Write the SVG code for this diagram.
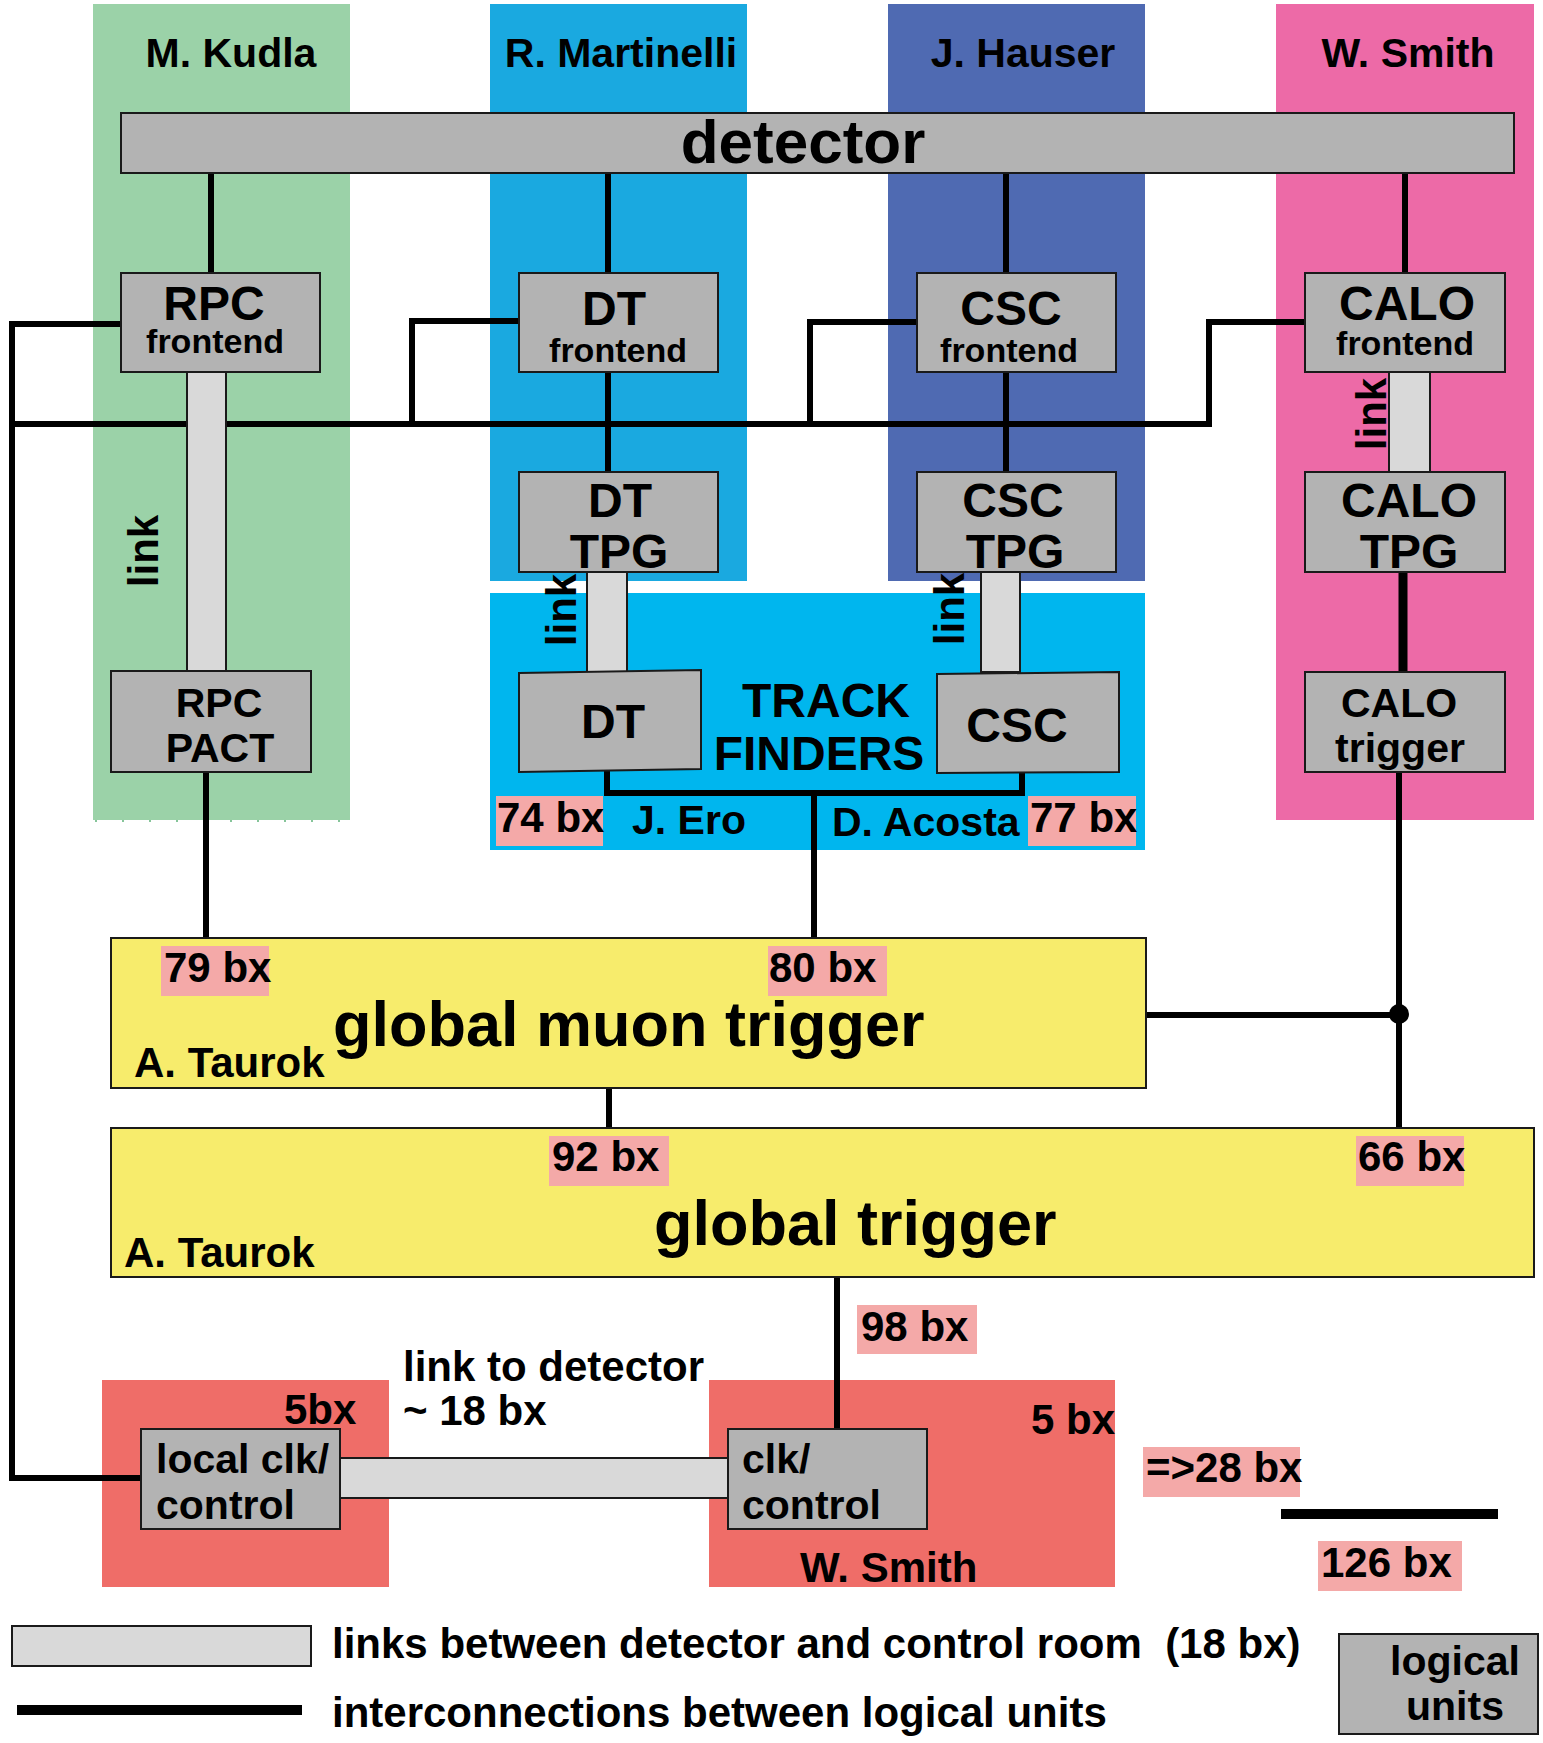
<svg xmlns="http://www.w3.org/2000/svg" width="1543" height="1743" viewBox="0 0 1543 1743">
  <style>
    text { font-family: "Liberation Sans", Arial, sans-serif; font-weight: bold; fill: #000; }
    .node { fill: #b3b3b3; stroke: #1a1a1a; stroke-width: 2; }
    .link { fill: #d9d9d9; stroke: #1a1a1a; stroke-width: 2; }
    .yellow { fill: #f7ec6c; stroke: #1a1a1a; stroke-width: 2; }
    .bx { fill: #f4a9a8; }
    .wire { fill: none; stroke: #000; stroke-width: 6; stroke-linejoin: miter; stroke-linecap: square; }
    .t42 { font-size: 42px; }
    .t41 { font-size: 41px; }
    .t48 { font-size: 48px; }
    .t35 { font-size: 34px; }
    .mid { text-anchor: middle; }
  </style>

  <!-- responsibility columns -->
  <g id="columns">
    <rect x="93" y="4" width="257" height="816" fill="#9bd2a8"/>
    <line x1="95" y1="821" x2="350" y2="821" stroke="#5fb37a" stroke-width="1.5" stroke-dasharray="2,25"/>
    <rect x="490" y="4" width="257" height="577" fill="#1aa9e0"/>
    <rect x="888" y="4" width="257" height="577" fill="#4f6ab2"/>
    <rect x="1276" y="4" width="258" height="816" fill="#ed6aa7"/>
    <rect x="490" y="593" width="655" height="257" fill="#00b6ee"/>
    <rect x="102" y="1380" width="287" height="207" fill="#ef6d68"/>
    <rect x="709" y="1380" width="406" height="207" fill="#ef6d68"/>
    <text class="t41 mid" x="231" y="67">M. Kudla</text>
    <text class="t41 mid" x="621" y="67">R. Martinelli</text>
    <text class="t41 mid" x="1023" y="67">J. Hauser</text>
    <text class="t41 mid" x="1408" y="67">W. Smith</text>
  </g>

  <!-- interconnections between logical units -->
  <g id="connectors">
    <line class="wire" x1="211" y1="173" x2="211" y2="273"/>
    <line class="wire" x1="608" y1="173" x2="608" y2="273"/>
    <line class="wire" x1="1006" y1="173" x2="1006" y2="273"/>
    <line class="wire" x1="1405" y1="173" x2="1405" y2="273"/>
    <polyline class="wire" points="121,324 12,324 12,1478 141,1478"/>
    <line class="wire" x1="12" y1="424" x2="1209" y2="424"/>
    <polyline class="wire" points="519,321 412,321 412,424"/>
    <polyline class="wire" points="917,322 810,322 810,424"/>
    <polyline class="wire" points="1209,424 1209,322 1305,322"/>
    <line class="wire" x1="608" y1="372" x2="608" y2="472"/>
    <line class="wire" x1="1006" y1="372" x2="1006" y2="472"/>
    <line x1="1403" y1="572" x2="1403" y2="672" stroke="#000" stroke-width="9"/>
    <polyline class="wire" points="607,771 607,793 1022,793 1022,772"/>
    <line class="wire" x1="814" y1="793" x2="814" y2="938"/>
    <line class="wire" x1="206" y1="772" x2="206" y2="938"/>
    <line class="wire" x1="609" y1="1088" x2="609" y2="1128"/>
    <line class="wire" x1="1399" y1="772" x2="1399" y2="1128"/>
    <line class="wire" x1="1146" y1="1015" x2="1399" y2="1015"/>
    <circle cx="1399" cy="1014" r="10" fill="#000"/>
    <line class="wire" x1="837" y1="1277" x2="837" y2="1430"/>
  </g>

  <!-- links between detector and control room -->
  <g id="links">
    <rect class="link" x="187" y="372" width="39" height="299"/>
    <rect class="link" x="587" y="572" width="40" height="100"/>
    <rect class="link" x="981" y="572" width="39" height="100"/>
    <rect class="link" x="1389" y="372" width="41" height="100"/>
    <rect class="link" x="340" y="1458" width="388" height="40"/>
    <text class="t42 mid" transform="translate(158,551) rotate(-90)">link</text>
    <text class="t42 mid" transform="translate(576,610) rotate(-90)">link</text>
    <text class="t42 mid" transform="translate(964,609) rotate(-90)">link</text>
    <text class="t42 mid" transform="translate(1386,414) rotate(-90)">link</text>
    <text class="t42" x="403" y="1381">link to detector</text>
    <text class="t42" x="403" y="1425">~ 18 bx</text>
  </g>

  <g id="detector">
    <rect class="node" x="121" y="113" width="1393" height="60"/>
    <text class="mid" x="803" y="163" font-size="62">detector</text>
  </g>

  <g id="rpc-frontend">
    <rect class="node" x="121" y="273" width="199" height="99"/>
    <text class="t48 mid" x="214" y="320">RPC</text>
    <text class="t35 mid" x="215" y="353">frontend</text>
  </g>
  <g id="dt-frontend">
    <rect class="node" x="519" y="273" width="199" height="99"/>
    <text class="t48 mid" x="614" y="325">DT</text>
    <text class="t35 mid" x="618" y="362">frontend</text>
  </g>
  <g id="csc-frontend">
    <rect class="node" x="917" y="273" width="199" height="99"/>
    <text class="t48 mid" x="1011" y="325">CSC</text>
    <text class="t35 mid" x="1009" y="362">frontend</text>
  </g>
  <g id="calo-frontend">
    <rect class="node" x="1305" y="273" width="200" height="99"/>
    <text class="t48 mid" x="1407" y="320">CALO</text>
    <text class="t35 mid" x="1405" y="355">frontend</text>
  </g>

  <g id="dt-tpg">
    <rect class="node" x="519" y="472" width="199" height="100"/>
    <text class="t48 mid" x="620" y="517">DT</text>
    <text class="t48 mid" x="619" y="568">TPG</text>
  </g>
  <g id="csc-tpg">
    <rect class="node" x="917" y="472" width="199" height="100"/>
    <text class="t48 mid" x="1013" y="517">CSC</text>
    <text class="t48 mid" x="1015" y="568">TPG</text>
  </g>
  <g id="calo-tpg">
    <rect class="node" x="1305" y="472" width="200" height="100"/>
    <text class="t48 mid" x="1409" y="517">CALO</text>
    <text class="t48 mid" x="1409" y="568">TPG</text>
  </g>

  <g id="rpc-pact">
    <rect class="node" x="111" y="671" width="200" height="101"/>
    <text class="t41 mid" x="219" y="717">RPC</text>
    <text class="t41 mid" x="220" y="762">PACT</text>
  </g>

  <g id="track-finders">
    <text class="t48 mid" x="826" y="717">TRACK</text>
    <text class="t48 mid" x="819" y="770">FINDERS</text>
    <text class="t41" x="632" y="834">J. Ero</text>
    <text class="t41" x="832" y="836">D. Acosta</text>
  </g>
  <g id="dt-tf">
    <polygon class="node" points="519,673 701,670 701,769 519,772"/>
    <text class="t48 mid" x="613" y="738">DT</text>
  </g>
  <g id="csc-tf">
    <polygon class="node" points="937,674 1119,672 1119,772 937,773"/>
    <text class="t48 mid" x="1017" y="742">CSC</text>
  </g>

  <g id="calo-trigger">
    <rect class="node" x="1305" y="672" width="200" height="100"/>
    <text class="t41 mid" x="1399" y="717">CALO</text>
    <text class="t41 mid" x="1400" y="762">trigger</text>
  </g>

  <g id="global-muon-trigger">
    <rect class="yellow" x="111" y="938" width="1035" height="150"/>
    <text x="333" y="1046" font-size="63">global muon trigger</text>
    <text class="t42" x="134" y="1077">A. Taurok</text>
  </g>

  <g id="global-trigger">
    <rect class="yellow" x="111" y="1128" width="1423" height="149"/>
    <text x="654" y="1245" font-size="63">global trigger</text>
    <text class="t42" x="124" y="1267">A. Taurok</text>
  </g>

  <g id="local-clk">
    <rect class="node" x="141" y="1429" width="199" height="100"/>
    <text class="t41" x="156" y="1473">local clk/</text>
    <text class="t41" x="156" y="1519">control</text>
    <text class="t42" x="284" y="1424">5bx</text>
  </g>

  <g id="clk-control">
    <rect class="node" x="728" y="1429" width="199" height="100"/>
    <text class="t41" x="742" y="1473">clk/</text>
    <text class="t41" x="742" y="1519">control</text>
    <text class="t42" x="1031" y="1434">5 bx</text>
    <text class="t42" x="800" y="1582">W. Smith</text>
  </g>

  <!-- latency labels -->
  <g id="latencies">
    <rect class="bx" x="496" y="796" width="107" height="50"/>
    <text class="t42" x="497" y="832">74 bx</text>
    <rect class="bx" x="1028" y="796" width="108" height="50"/>
    <text class="t42" x="1030" y="832">77 bx</text>
    <rect class="bx" x="161" y="946" width="108" height="50"/>
    <text class="t42" x="164" y="982">79 bx</text>
    <rect class="bx" x="768" y="946" width="119" height="50"/>
    <text class="t42" x="769" y="982">80 bx</text>
    <rect class="bx" x="549" y="1136" width="120" height="50"/>
    <text class="t42" x="552" y="1171">92 bx</text>
    <rect class="bx" x="1356" y="1136" width="108" height="50"/>
    <text class="t42" x="1358" y="1171">66 bx</text>
    <rect class="bx" x="857" y="1305" width="120" height="49"/>
    <text class="t42" x="861" y="1341">98 bx</text>
    <rect class="bx" x="1143" y="1447" width="157" height="50"/>
    <text class="t42" x="1146" y="1482">=&gt;28 bx</text>
    <line x1="1281" y1="1514" x2="1498" y2="1514" stroke="#000" stroke-width="10"/>
    <rect class="bx" x="1318" y="1541" width="144" height="50"/>
    <text class="t42" x="1321" y="1577">126 bx</text>
  </g>

  <!-- legend -->
  <g id="legend">
    <rect class="link" x="12" y="1626" width="299" height="40"/>
    <text class="t42" x="332" y="1658" xml:space="preserve">links between detector and control room  (18 bx)</text>
    <line x1="17" y1="1710" x2="302" y2="1710" stroke="#000" stroke-width="10"/>
    <text class="t42" x="332" y="1727">interconnections between logical units</text>
    <rect class="node" x="1339" y="1634" width="199" height="100"/>
    <text class="t41 mid" x="1455" y="1675">logical</text>
    <text class="t41 mid" x="1455" y="1720">units</text>
  </g>
</svg>
